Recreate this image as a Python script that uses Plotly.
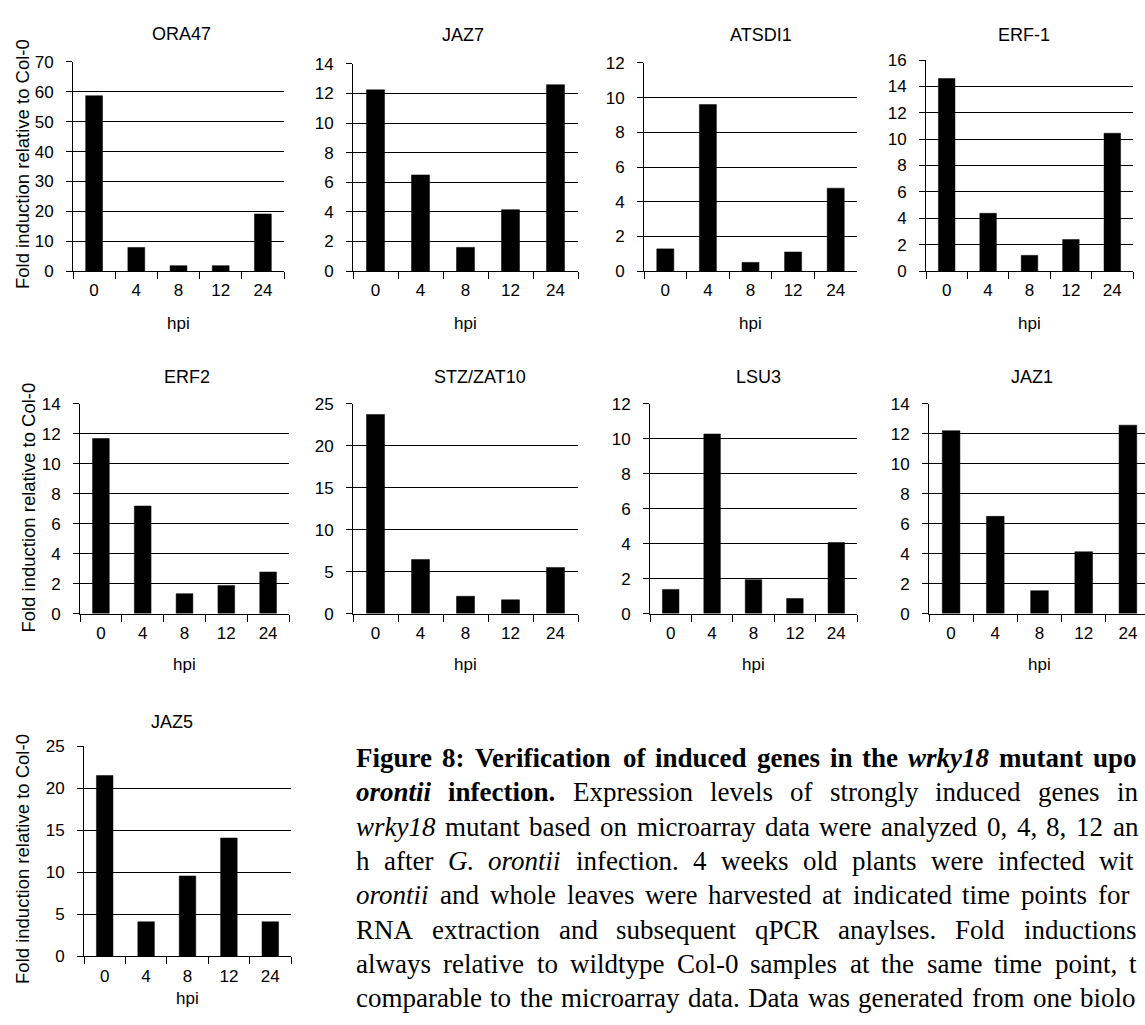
import plotly.graph_objects as go

# ---------------- data ----------------
hpi = ["0", "4", "8", "12", "24"]
genes = ["ORA47", "JAZ7", "ATSDI1", "ERF-1", "ERF2", "STZ/ZAT10", "LSU3", "JAZ1", "JAZ5"]
ora47 = [58.7, 7.9, 1.8, 1.8, 19.1]
jaz7 = [12.25, 6.5, 1.6, 4.15, 12.6]
atsdi1 = [1.28, 9.6, 0.5, 1.1, 4.78]
erf1 = [14.6, 4.38, 1.19, 2.39, 10.45]
erf2 = [11.67, 7.17, 1.33, 1.88, 2.77]
stz_zat10 = [23.7, 6.43, 2.06, 1.64, 5.49]
lsu3 = [1.38, 10.26, 1.94, 0.86, 4.06]
jaz1 = [12.19, 6.48, 1.53, 4.12, 12.56]
jaz5 = [21.5, 4.09, 9.54, 14.06, 4.09]
series = [ora47, jaz7, atsdi1, erf1, erf2, stz_zat10, lsu3, jaz1, jaz5]
y_max = [70, 14, 12, 16, 14, 25, 12, 14, 25]
y_step = [10, 2, 2, 2, 2, 5, 2, 2, 5]
y_title = "Fold induction relative to Col-0"
x_title = "hpi"

# caption: each line is a list of (text, style); style: r=regular, b=bold, i=italic, bi=bold italic
caption_lines = [
    [("Figure 8: Verification of induced genes in the ", "b"), ("wrky18", "bi"),
     (" mutant upon ", "b"), ("G.", "bi")],
    [("orontii", "bi"), (" infection.", "b"),
     (" Expression levels of strongly induced genes in the", "r")],
    [("wrky18", "i"), (" mutant based on microarray data were analyzed 0, 4, 8, 12 and 24", "r")],
    [("h after ", "r"), ("G. orontii", "i"),
     (" infection. 4 weeks old plants were infected with ", "r"), ("G.", "i")],
    [("orontii", "i"), (" and whole leaves were harvested at indicated time points for total", "r")],
    [("RNA extraction and subsequent qPCR anaylses. Fold inductions are", "r")],
    [("always relative to wildtype Col-0 samples at the same time point, to be", "r")],
    [("comparable to the microarray data. Data was generated from one biological", "r")],
]

# ---------------- layout geometry (pixels) ----------------
W, H = 1145, 1025
panels = [
    (73, 284, 54, 267), (353, 578, 56, 267), (644, 857, 55, 267), (926, 1133, 52, 267),
    (80, 289, 402, 616), (353, 578, 402, 616), (650, 857, 402, 616), (929, 1150, 402, 616),
    (84, 291, 751, 965),
]
title_pos = [(181, 25), (463, 26), (761, 27), (1024, 27),
             (187, 375), (480, 375), (758, 375), (1032, 375), (172, 726)]
hpi_y = [320, 320, 320, 320, 668, 668, 668, 668, 1008]
ylabel_pos = [(22, 158), (29, 508), (23, 866)]

CAP_LEFT, CAP_RIGHT, CAP_TOP, CAP_STEP, CAP_SIZE = 355, 1187, 763, 35, 27

SANS = "Liberation Sans, Arial, sans-serif"
SERIF = "Liberation Serif, Times New Roman, serif"
TICK = dict(family=SANS, size=17, color="black")

# Times (Liberation Serif) advance widths, 1/1000 em
_R = dict(zip("abcdefghijklmnopqrstuvwxyz",
              [444, 500, 444, 500, 444, 333, 500, 500, 278, 278, 500, 278, 778, 500, 500, 500, 500,
               333, 389, 278, 500, 500, 722, 500, 500, 444]))
_R.update(dict(zip("ABCDEFGHIJKLMNOPQRSTUVWXYZ",
                   [722, 667, 667, 722, 611, 556, 722, 722, 333, 389, 722, 611, 889, 722, 722, 556,
                    722, 667, 556, 611, 722, 722, 944, 722, 722, 611])))
_B = dict(zip("abcdefghijklmnopqrstuvwxyz",
              [500, 556, 444, 556, 444, 333, 500, 556, 278, 333, 556, 278, 833, 556, 500, 556, 556,
               444, 389, 333, 556, 500, 722, 500, 500, 444]))
_B.update(dict(zip("ABCDEFGHIJKLMNOPQRSTUVWXYZ",
                   [722, 667, 722, 722, 667, 611, 778, 778, 389, 500, 778, 667, 944, 722, 778, 611,
                    778, 722, 556, 667, 722, 722, 1000, 722, 722, 667])))
_I = dict(zip("abcdefghijklmnopqrstuvwxyz",
              [500, 500, 444, 500, 444, 278, 500, 500, 278, 278, 444, 278, 722, 500, 500, 500, 500,
               389, 389, 278, 500, 444, 667, 444, 444, 389]))
_I.update({"G": 722})
_BI = dict(zip("abcdefghijklmnopqrstuvwxyz",
               [500, 500, 444, 500, 444, 333, 500, 556, 278, 278, 500, 278, 778, 556, 500, 500, 500,
                389, 389, 278, 556, 444, 667, 500, 444, 389]))
_BI.update({"G": 722})
_PUNCT = {" ": 250, ".": 250, ",": 250, ":": 278, "-": 333}
TABLES = {"r": _R, "b": _B, "i": _I, "bi": _BI}


def char_width(ch, style):
    if ch.isdigit():
        w = 500
    elif ch in _PUNCT:
        w = 333 if (ch == ":" and "b" in style) else _PUNCT[ch]
    else:
        w = TABLES[style].get(ch, _R.get(ch, 500))
    return w / 1000.0 * CAP_SIZE


def text_width(s, style):
    return sum(char_width(ch, style) for ch in s)


def wrap(s, style):
    if style == "b":
        return f"<b>{s}</b>"
    if style == "i":
        return f"<i>{s}</i>"
    if style == "bi":
        return f"<b><i>{s}</i></b>"
    return s


fig = go.Figure()
annotations = []
layout = {}

for i, (vals, gname) in enumerate(zip(series, genes)):
    n = i + 1
    xa = "x" if n == 1 else f"x{n}"
    ya = "y" if n == 1 else f"y{n}"
    fig.add_trace(go.Bar(x=hpi, y=vals, xaxis=xa, yaxis=ya, name=gname,
                         marker=dict(color="black", line=dict(color="black", width=0.5)),
                         showlegend=False))
    l, r, t, b = panels[i]
    r_vis = min(r, W)
    cat_w = (r - l) / 5.0
    xmax = -0.5 + (r_vis - l) / cat_w
    layout["xaxis" if n == 1 else f"xaxis{n}"] = dict(
        domain=[l / W, r_vis / W], anchor=ya, type="category",
        categoryorder="array", categoryarray=hpi,
        range=[-0.5, xmax], showline=True, linecolor="black", linewidth=1,
        ticks="outside", tickson="boundaries", ticklen=7, tickcolor="black",
        tickwidth=1, showgrid=False, zeroline=False, tickfont=TICK,
        ticklabelstandoff=4, fixedrange=True,
    )
    layout["yaxis" if n == 1 else f"yaxis{n}"] = dict(
        domain=[1 - b / H, 1 - t / H], anchor=xa,
        range=[0, y_max[i]], dtick=y_step[i], tick0=0,
        showline=True, linecolor="black", linewidth=1,
        ticks="outside", ticklen=6, tickcolor="black", tickwidth=1,
        showgrid=True, gridcolor="black", gridwidth=1, zeroline=False,
        tickfont=TICK, ticklabelstandoff=9, fixedrange=True,
    )
    tx, ty = title_pos[i]
    annotations.append(dict(text=gname, x=tx / W, y=1 - ty / H, xref="paper", yref="paper",
                            showarrow=False, xanchor="center", yanchor="middle",
                            font=dict(family=SANS, size=18, color="black")))
    annotations.append(dict(text=x_title, x=(l + r) / 2 / W, y=1 - hpi_y[i] / H,
                            xref="paper", yref="paper", showarrow=False,
                            xanchor="center", yanchor="middle",
                            font=dict(family=SANS, size=17, color="black")))

for (lx, ly) in ylabel_pos:
    annotations.append(dict(text=y_title, x=lx / W, y=1 - ly / H, xref="paper", yref="paper",
                            showarrow=False, textangle=-90, xanchor="center", yanchor="middle",
                            font=dict(family=SANS, size=18.5, color="black")))

# justified caption: split into words, spread across the column width;
# the column runs past the right edge of the page, so words there are shortened
# to the letters that remain visible.
for k, line in enumerate(caption_lines):
    words = []
    cur = []
    for seg, style in line:
        parts = seg.split(" ")
        for j, p in enumerate(parts):
            if j > 0:
                if cur:
                    words.append(cur)
                cur = []
            if p:
                cur.append((p, style))
    if cur:
        words.append(cur)
    widths = [sum(text_width(t, s) for t, s in w) for w in words]
    gap = (CAP_RIGHT - CAP_LEFT - sum(widths)) / max(len(words) - 1, 1)
    x = CAP_LEFT
    y = 1 - (CAP_TOP + CAP_STEP * k) / H
    for w, wd in zip(words, widths):
        if x < W - 4:
            pieces = []
            cx = x
            for t, s in w:
                kept = ""
                for ch in t:
                    cw = char_width(ch, s)
                    if cx + cw > W - 1:
                        break
                    kept += ch
                    cx += cw
                if kept:
                    pieces.append(wrap(kept, s))
                if len(kept) < len(t):
                    break
            if pieces:
                annotations.append(dict(text="".join(pieces),
                                        x=x / W, y=y, xref="paper", yref="paper",
                                        showarrow=False, xanchor="left", yanchor="middle",
                                        align="left", borderpad=0,
                                        font=dict(family=SERIF, size=CAP_SIZE, color="black")))
        x += wd + gap

fig.update_layout(
    width=W, height=H, margin=dict(l=0, r=0, t=0, b=0),
    paper_bgcolor="white", plot_bgcolor="white",
    bargap=0.6, annotations=annotations, **layout,
)

fig.write_html("out.html")
